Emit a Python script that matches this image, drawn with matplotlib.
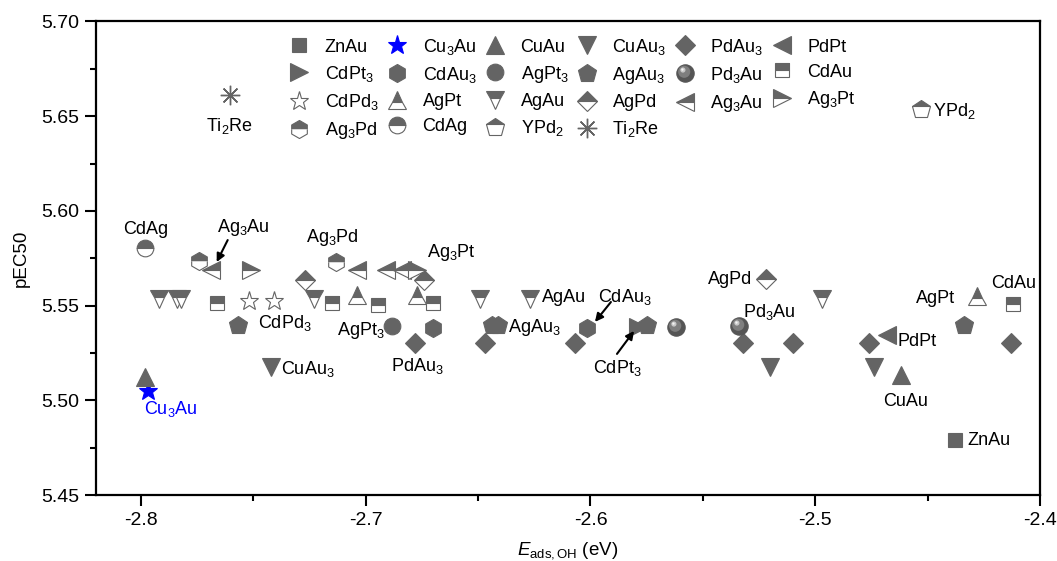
import matplotlib
matplotlib.use('Agg')
import matplotlib.pyplot as plt
import numpy as np
from matplotlib.path import Path

plt.rcParams['font.family'] = ['Liberation Sans', 'DejaVu Sans']
plt.rcParams['mathtext.fontset'] = 'custom'
plt.rcParams['mathtext.rm'] = 'Liberation Sans'
plt.rcParams['mathtext.it'] = 'Liberation Sans:italic'
plt.rcParams['mathtext.bf'] = 'Liberation Sans:bold'

# data: E_ads,OH (eV) and pEC50 for each alloy
ZnAu_E = [-2.438]
ZnAu_p = [5.479]
Cu3Au_E = [-2.797]
Cu3Au_p = [5.505]
CuAu_E = [-2.798, -2.462]
CuAu_p = [5.5125, 5.5134]
CuAu3_E = [-2.742, -2.520, -2.474]
CuAu3_p = [5.5177, 5.5177, 5.5177]
PdAu3_E = [-2.678, -2.647, -2.607, -2.532, -2.510, -2.476, -2.413]
PdAu3_p = [5.530, 5.530, 5.530, 5.530, 5.530, 5.530, 5.530]
PdPt_E = [-2.468]
PdPt_p = [5.5345]
CdPt3_E = [-2.579]
CdPt3_p = [5.5385]
CdAu3_E = [-2.670, -2.6016]
CdAu3_p = [5.538, 5.538]
AgPt3_E = [-2.6885]
AgPt3_p = [5.5392]
AgAu3_E = [-2.757, -2.644, -2.641, -2.575, -2.434]
AgAu3_p = [5.540, 5.540, 5.540, 5.540, 5.540]
Pd3Au_E = [-2.562, -2.534]
Pd3Au_p = [5.5385, 5.5392]
CdAu_E = [-2.766, -2.715, -2.6945, -2.670, -2.412]
CdAu_p = [5.5512, 5.5512, 5.5503, 5.5512, 5.5508]
CdPd3_E = [-2.752, -2.741]
CdPd3_p = [5.5526, 5.5526]
AgPt_E = [-2.704, -2.677, -2.428]
AgPt_p = [5.5558, 5.5558, 5.5551]
AgAu_E = [-2.792, -2.784, -2.782, -2.723, -2.649, -2.627, -2.497]
AgAu_p = [5.5535, 5.5535, 5.5535, 5.5535, 5.5535, 5.5535, 5.5535]
AgPd_E = [-2.727, -2.674, -2.522]
AgPd_p = [5.5635, 5.5635, 5.5638]
Ag3Au_E = [-2.769, -2.704, -2.691, -2.684]
Ag3Au_p = [5.5688, 5.5688, 5.5688, 5.5688]
Ag3Pt_E = [-2.751, -2.677]
Ag3Pt_p = [5.5688, 5.5688]
Ag3Pd_E = [-2.774, -2.713]
Ag3Pd_p = [5.5737, 5.5732]
CdAg_E = [-2.798]
CdAg_p = [5.5803]
YPd2_E = [-2.453]
YPd2_p = [5.6538]
Ti2Re_E = [-2.7605]
Ti2Re_p = [5.6612]

gray = '#646464'
fs = 13


def circ_marker(cx, cy, r):
    # circle inside a [-1,1] box so the offset is kept when scaled
    c = Path.circle((cx, cy), r)
    verts = np.vstack([[[-1, -1]], [[1, 1]], c.vertices])
    codes = [Path.MOVETO, Path.MOVETO] + list(c.codes)
    return Path(verts, codes)


fig = plt.figure(figsize=(10.57, 5.61), dpi=100)
ax = fig.add_axes([0.0908, 0.1176, 0.8931, 0.8441])


def draw(x, y, marker, ms, fill='full', fc=gray, ec=gray, mew=0.8, label=None):
    line, = ax.plot(x, y, ls='none', marker=marker, ms=ms, mfc=fc, mec=ec,
                    mew=mew, fillstyle=fill, markerfacecoloralt='white',
                    label=label, zorder=3)
    return line


h = {}
h['ZnAu'] = draw(ZnAu_E, ZnAu_p, 's', 10)
h['Cu3Au'] = draw(Cu3Au_E, Cu3Au_p, '*', 14, fc='#0000ff', ec='#0000ff')
h['CuAu'] = draw(CuAu_E, CuAu_p, '^', 13)
h['CuAu3'] = draw(CuAu3_E, CuAu3_p, 'v', 13)
h['PdAu3'] = draw(PdAu3_E, PdAu3_p, 'D', 10)
h['PdPt'] = draw(PdPt_E, PdPt_p, '<', 13)
h['CdPt3'] = draw(CdPt3_E, CdPt3_p, '>', 13)
h['CdAu3'] = draw(CdAu3_E, CdAu3_p, 'h', 13)
h['AgPt3'] = draw(AgPt3_E, AgPt3_p, 'o', 12)
h['AgAu3'] = draw(AgAu3_E, AgAu3_p, 'p', 13.5)
# shaded sphere
b = draw(Pd3Au_E, Pd3Au_p, 'o', 12.5, fc='#555555', ec='#555555')
s1 = draw(Pd3Au_E, Pd3Au_p, circ_marker(-0.15, 0.2, 0.7), 12.5, fc='#7e7e7e', ec='none', mew=0)
s2 = draw(Pd3Au_E, Pd3Au_p, circ_marker(-0.3, 0.4, 0.3), 12.5, fc='#c8c8c8', ec='none', mew=0)
s3 = draw(Pd3Au_E, Pd3Au_p, circ_marker(-0.35, 0.45, 0.13), 12.5, fc='#f4f4f4', ec='none', mew=0)
h['Pd3Au'] = (b, s1, s2, s3)
h['CdAu'] = draw(CdAu_E, CdAu_p, 's', 10, fill='top')
h['CdPd3'] = draw(CdPd3_E, CdPd3_p, '*', 14, fc='white')
h['AgPt'] = draw(AgPt_E, AgPt_p, '^', 13, fill='top')
h['AgAu'] = draw(AgAu_E, AgAu_p, 'v', 13, fill='top')
h['AgPd'] = draw(AgPd_E, AgPd_p, 'D', 10, fill='top')
h['Ag3Pd'] = draw(Ag3Pd_E, Ag3Pd_p, 'h', 13, fill='top')
h['Ag3Au'] = draw(Ag3Au_E, Ag3Au_p, '<', 13, fill='top')
h['Ag3Pt'] = draw(Ag3Pt_E, Ag3Pt_p, '>', 13, fill='top')
h['CdAg'] = draw(CdAg_E, CdAg_p, 'o', 12, fill='top')
h['YPd2'] = draw(YPd2_E, YPd2_p, 'p', 13.5, fill='top')
h['Ti2Re'] = draw(Ti2Re_E, Ti2Re_p, (8, 2, 0), 14, mew=1.0)

names = ['ZnAu', 'Cu3Au', 'CuAu', 'CuAu3', 'PdAu3', 'PdPt',
         'CdPt3', 'CdAu3', 'AgPt3', 'AgAu3', 'Pd3Au', 'CdAu',
         'CdPd3', 'AgPt', 'AgAu', 'AgPd', 'Ag3Au', 'Ag3Pt',
         'Ag3Pd', 'CdAg', 'YPd2', 'Ti2Re']
labels = {'ZnAu': 'ZnAu', 'Cu3Au': 'Cu$_3$Au', 'CuAu': 'CuAu', 'CuAu3': 'CuAu$_3$',
          'PdAu3': 'PdAu$_3$', 'PdPt': 'PdPt', 'CdPt3': 'CdPt$_3$', 'CdAu3': 'CdAu$_3$',
          'AgPt3': 'AgPt$_3$', 'AgAu3': 'AgAu$_3$', 'Pd3Au': 'Pd$_3$Au', 'CdAu': 'CdAu',
          'CdPd3': 'CdPd$_3$', 'AgPt': 'AgPt', 'AgAu': 'AgAu', 'AgPd': 'AgPd',
          'Ag3Au': 'Ag$_3$Au', 'Ag3Pt': 'Ag$_3$Pt', 'Ag3Pd': 'Ag$_3$Pd', 'CdAg': 'CdAg',
          'YPd2': 'YPd$_2$', 'Ti2Re': 'Ti$_2$Re'}

# legend is read row by row, matplotlib fills column by column
order = [j + 6 * i for j in range(6) for i in range(4) if j + 6 * i < len(names)]
leg = ax.legend([h[names[k]] for k in order], [labels[names[k]] for k in order],
                ncol=6, loc='upper left', bbox_to_anchor=(0.204, 0.968),
                frameon=False, fontsize=fs, handlelength=1.2, handletextpad=0.8,
                columnspacing=0.45, labelspacing=0.45, borderpad=0, borderaxespad=0)

# point labels
def lab(s, x, y, ha='center', color='k'):
    ax.text(x, y, s, ha=ha, va='center', fontsize=fs, color=color, zorder=4)


lab('Ti$_2$Re', -2.7605, 5.6448)
lab('YPd$_2$', -2.4474, 5.6527, ha='left')
lab('CdAg', -2.7979, 5.5904)
lab('Ag$_3$Au', -2.7546, 5.5915)
lab('Ag$_3$Pd', -2.7147, 5.5860)
lab('Ag$_3$Pt', -2.6728, 5.5783, ha='left')
lab('CdPd$_3$', -2.748, 5.5408, ha='left')
lab('CuAu$_3$', -2.7378, 5.5165, ha='left')
lab('Cu$_3$Au', -2.7867, 5.4954, color='#0000ff')
lab('AgPt$_3$', -2.6915, 5.5371, ha='right')
lab('PdAu$_3$', -2.6772, 5.5181)
lab('AgAu', -2.6216, 5.5545, ha='left')
lab('AgAu$_3$', -2.6367, 5.5382, ha='left')
lab('CdAu$_3$', -2.5966, 5.5545, ha='left')
lab('CdPt$_3$', -2.5989, 5.5171, ha='left')
lab('AgPd', -2.528, 5.5640, ha='right')
lab('Pd$_3$Au', -2.5321, 5.5466, ha='left')
lab('PdPt', -2.4634, 5.5308, ha='left')
lab('CuAu', -2.4599, 5.4996)
lab('ZnAu', -2.4323, 5.4790, ha='left')
lab('AgPt', -2.4376, 5.5535, ha='right')
lab('CdAu', -2.4118, 5.5619)

arr = dict(arrowstyle='-|>', color='k', lw=1.5, mutation_scale=12, shrinkA=0, shrinkB=0)
ax.annotate('', xy=(-2.7663, 5.5730), xytext=(-2.7614, 5.5846), arrowprops=arr)
ax.annotate('', xy=(-2.5980, 5.5414), xytext=(-2.5909, 5.5519), arrowprops=arr)
ax.annotate('', xy=(-2.5806, 5.5366), xytext=(-2.5882, 5.5245), arrowprops=arr)

ax.set_xlim(-2.82, -2.4)
ax.set_ylim(5.45, 5.70)
ax.set_xticks([-2.8, -2.7, -2.6, -2.5, -2.4])
ax.set_xticklabels(['-2.8', '-2.7', '-2.6', '-2.5', '-2.4'])
ax.set_xticks([-2.75, -2.65, -2.55, -2.45], minor=True)
ax.set_yticks([5.45, 5.50, 5.55, 5.60, 5.65, 5.70])
ax.set_yticklabels(['5.45', '5.50', '5.55', '5.60', '5.65', '5.70'])
ax.set_yticks([5.475, 5.525, 5.575, 5.625, 5.675], minor=True)
ax.tick_params(which='major', direction='out', length=8, width=1.5, labelsize=14, pad=4)
ax.tick_params(which='minor', direction='out', length=4.5, width=1.5)
for sp in ax.spines.values():
    sp.set_linewidth(1.6)

ax.set_xlabel(r'$E_{\mathrm{ads,OH}}$ (eV)', fontsize=13.5, labelpad=8)
ax.set_ylabel('pEC50', fontsize=13.5, labelpad=8)

fig.savefig('out.png', dpi=100)
